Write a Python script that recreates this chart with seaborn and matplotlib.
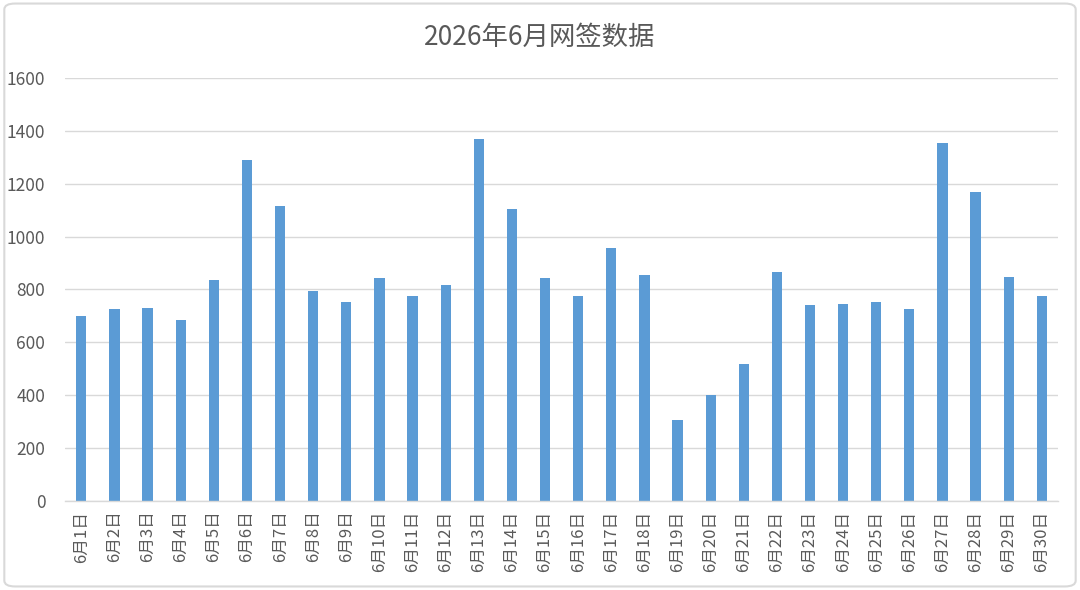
import numpy as np
import pandas as pd
import matplotlib.pyplot as plt
from matplotlib.patches import FancyBboxPatch
import seaborn as sns

days = [f"6月{d}日" for d in range(1, 31)]
values = [701, 727, 731, 684, 834, 1289, 1117, 795, 751, 842,
          774, 815, 1367, 1105, 844, 774, 956, 855, 307, 401,
          519, 867, 741, 745, 752, 727, 1353, 1170, 845, 774]
yticks = [0, 200, 400, 600, 800, 1000, 1200, 1400, 1600]
title = "2026年6月网签数据"

sns.set_style("white")
plt.rcParams['font.family'] = ['Noto Sans CJK SC', 'DejaVu Sans']

df = pd.DataFrame({"day": days, "value": values})

fig = plt.figure(figsize=(10.8, 5.9), dpi=100)
ax = fig.add_axes([0.060, 0.151, 0.920, 0.717])

sns.barplot(data=df, x="day", y="value", color="#5b9bd5", saturation=1,
            width=0.31, linewidth=0, ax=ax)

ax.set_ylim(0, 1600)
ax.set_yticks(yticks)
ax.set_xlim(-0.5, len(days) - 0.5)
ax.yaxis.grid(True, color="#d9d9d9", linewidth=1)
ax.set_axisbelow(True)
for side in ["top", "right", "left"]:
    ax.spines[side].set_visible(False)
ax.spines["bottom"].set_color("#d9d9d9")
ax.spines["bottom"].set_linewidth(1)

ax.set_xlabel("")
ax.set_ylabel("")
ax.tick_params(axis="y", length=0, labelsize=12.5, labelcolor="#595959", pad=14)
ax.tick_params(axis="x", which="major", length=0, labelsize=12,
               labelcolor="#595959", rotation=90, pad=7)
ax.set_xticks(np.arange(-0.5, len(days), 1), minor=True)
ax.tick_params(axis="x", which="minor", length=5, color="#d9d9d9", width=1)

fig.text(0.5, 1 - 37 / 590, title, ha="center", va="center", fontsize=19, color="#595959")

border = FancyBboxPatch((0.004, 0.006), 0.992, 0.988, boxstyle="round,pad=0,rounding_size=0.01",
                        transform=fig.transFigure, fill=False, edgecolor="#d9d9d9", linewidth=1.5)
fig.patches.append(border)

fig.savefig("out.png", dpi=100)
